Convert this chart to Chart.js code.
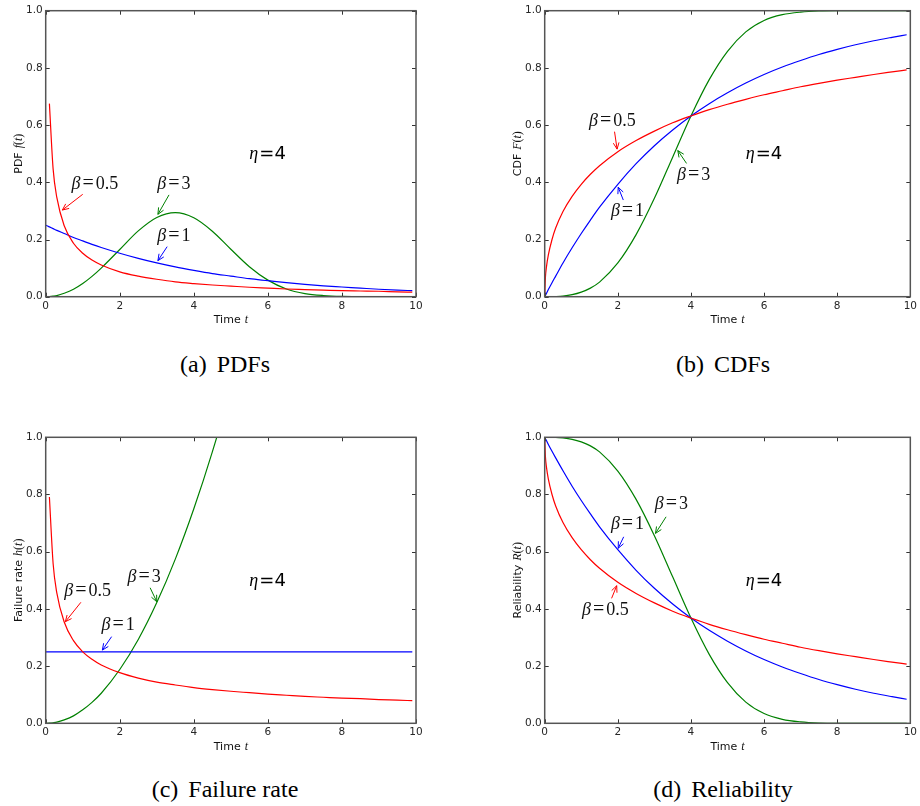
<!DOCTYPE html>
<html>
<head>
<meta charset="utf-8">
<title>Weibull distribution, eta = 4</title>
<script src="https://cdn.jsdelivr.net/npm/chart.js@4.4.1/dist/chart.umd.min.js"></script>
<style>
  html, body { margin: 0; padding: 0; background: #fff; }
  #page { position: relative; width: 920px; height: 806px; overflow: hidden; }
  .panel { position: absolute; width: 460px; height: 340px; }
  .caption {
    position: absolute; width: 300px; text-align: center; color: #000;
    font: 24px "Liberation Serif", "Times New Roman", serif; line-height: 24px;
    white-space: pre;
  }
  .caption .tag { margin-right: 4px; }
</style>
</head>
<body>
<div id="page">
  <div class="panel" style="left:0;top:0"><canvas id="pdfChart" width="460" height="340"></canvas></div>
  <div class="panel" style="left:460px;top:0"><canvas id="cdfChart" width="460" height="340"></canvas></div>
  <div class="panel" style="left:0;top:420px"><canvas id="hazChart" width="460" height="340"></canvas></div>
  <div class="panel" style="left:460px;top:420px"><canvas id="relChart" width="460" height="340"></canvas></div>
  <div class="caption" style="left:75px;top:352px"><span class="tag">(a)</span> PDFs</div>
  <div class="caption" style="left:573px;top:352px"><span class="tag">(b)</span> CDFs</div>
  <div class="caption" style="left:75px;top:777px"><span class="tag">(c)</span> Failure rate</div>
  <div class="caption" style="left:573px;top:777px"><span class="tag">(d)</span> Reliability</div>
</div>

<script>
// ===== Data (eta = 4) =====
const times = [0, 0.02, 0.05, 0.1, 0.2, 0.3, 0.5, 0.75, 1, 1.25, 1.5, 2, 2.5, 3, 3.5, 4, 4.5, 5, 5.5, 6, 6.5, 7, 7.5, 8, 8.5, 9, 9.5, 9.9];

const betaLabels = ['0.5', '1', '3'];

// PDF f(t)
const pdfBeta05 = [null, null, null, 0.675, 0.447, 0.347, 0.248, 0.187, 0.152, 0.128, 0.111, 0.087, 0.072, 0.061, 0.052, 0.046, 0.041, 0.037, 0.033, 0.030, 0.027, 0.025, 0.023, 0.021, 0.020, 0.019, 0.017, 0.016];
const pdfBeta1  = [0.250, 0.249, 0.247, 0.244, 0.238, 0.232, 0.221, 0.207, 0.195, 0.183, 0.172, 0.152, 0.134, 0.118, 0.104, 0.092, 0.081, 0.072, 0.063, 0.056, 0.049, 0.043, 0.038, 0.034, 0.030, 0.026, 0.023, 0.021];
const pdfBeta3  = [0, 0, 0, 0.0005, 0.002, 0.004, 0.012, 0.026, 0.046, 0.071, 0.100, 0.165, 0.230, 0.277, 0.294, 0.276, 0.229, 0.166, 0.105, 0.058, 0.027, 0.011, 0.004, 0.001, 0.0002, 0, 0, 0];

// CDF F(t)
const cdfBeta05 = [0, 0.068, 0.106, 0.146, 0.200, 0.240, 0.298, 0.351, 0.393, 0.428, 0.458, 0.507, 0.546, 0.579, 0.608, 0.632, 0.654, 0.673, 0.690, 0.706, 0.720, 0.734, 0.746, 0.757, 0.767, 0.777, 0.786, 0.793];
const cdfBeta1  = [0, 0.005, 0.012, 0.025, 0.049, 0.072, 0.118, 0.171, 0.221, 0.268, 0.313, 0.393, 0.465, 0.528, 0.583, 0.632, 0.675, 0.713, 0.747, 0.777, 0.803, 0.826, 0.847, 0.865, 0.881, 0.895, 0.907, 0.916];
const cdfBeta3  = [0, 0, 0, 0, 0.0001, 0.0004, 0.002, 0.007, 0.016, 0.030, 0.051, 0.118, 0.217, 0.344, 0.488, 0.632, 0.759, 0.858, 0.926, 0.966, 0.986, 0.995, 0.999, 1.000, 1, 1, 1, 1];

// Failure rate h(t)
const hazBeta05 = [null, null, null, 0.791, 0.559, 0.456, 0.354, 0.289, 0.250, 0.224, 0.204, 0.177, 0.158, 0.144, 0.134, 0.125, 0.118, 0.112, 0.107, 0.102, 0.098, 0.094, 0.091, 0.088, 0.086, 0.083, 0.081, 0.079];
const hazBeta1  = [0.25, 0.25, 0.25, 0.25, 0.25, 0.25, 0.25, 0.25, 0.25, 0.25, 0.25, 0.25, 0.25, 0.25, 0.25, 0.25, 0.25, 0.25, 0.25, 0.25, 0.25, 0.25, 0.25, 0.25, 0.25, 0.25, 0.25, 0.25];
const hazBeta3  = [0, 0, 0.0001, 0.0005, 0.002, 0.004, 0.012, 0.026, 0.047, 0.073, 0.105, 0.188, 0.293, 0.422, 0.574, 0.750, 0.949, 1.172, 1.418, null, null, null, null, null, null, null, null, null];

// Reliability R(t)
const relBeta05 = [1, 0.932, 0.894, 0.854, 0.800, 0.760, 0.702, 0.649, 0.607, 0.572, 0.542, 0.493, 0.454, 0.421, 0.392, 0.368, 0.346, 0.327, 0.310, 0.294, 0.280, 0.266, 0.254, 0.243, 0.233, 0.223, 0.214, 0.207];
const relBeta1  = [1, 0.995, 0.988, 0.975, 0.951, 0.928, 0.883, 0.829, 0.779, 0.732, 0.687, 0.607, 0.535, 0.472, 0.417, 0.368, 0.325, 0.287, 0.253, 0.223, 0.197, 0.174, 0.153, 0.135, 0.119, 0.105, 0.093, 0.084];
const relBeta3  = [1, 1, 1, 1, 1, 1, 0.998, 0.993, 0.984, 0.970, 0.949, 0.882, 0.783, 0.656, 0.512, 0.368, 0.241, 0.142, 0.074, 0.034, 0.014, 0.005, 0.001, 0, 0, 0, 0, 0];

// Ticks
const xTickValues = [0, 2, 4, 6, 8, 10];
const xTickLabels = ['0', '2', '4', '6', '8', '10'];
const yTickValues = [0, 0.2, 0.4, 0.6, 0.8, 1.0];
const yTickLabels = ['0.0', '0.2', '0.4', '0.6', '0.8', '1.0'];

// ===== Style =====
const seriesColors = ['#ff0000', '#0000ff', '#008000'];
const SANS = '"DejaVu Sans", sans-serif';
const SERIF = '"Liberation Serif", "Times New Roman", serif';
const CANVAS_H = 340;
const Y_AXIS_W = 40;

// ===== Panels =====
// notes: [series index, text x, text y, arrow tail x, tail y, head x, head y] in data units
const panels = [
  {
    id: 'pdfChart', pos: { x: 0, y: 0 }, area: { left: 45.7, top: 10.7, right: 416, bottom: 296.7 },
    yName: 'PDF', yFunc: 'f', series: [pdfBeta05, pdfBeta1, pdfBeta3],
    notes: [[0, 0.70, 0.375, 1.00, 0.358, 0.45, 0.303],
            [2, 3.01, 0.375, 3.33, 0.356, 3.03, 0.288],
            [1, 3.01, 0.196, 3.28, 0.175, 3.03, 0.126]]
  },
  {
    id: 'cdfChart', pos: { x: 460, y: 0 }, area: { left: 544.7, top: 10.7, right: 914, bottom: 296.7 },
    yName: 'CDF', yFunc: 'F', series: [cdfBeta05, cdfBeta1, cdfBeta3],
    notes: [[0, 1.21, 0.597, 1.91, 0.577, 1.98, 0.516],
            [1, 1.81, 0.282, 2.15, 0.338, 2.01, 0.383],
            [2, 3.62, 0.408, 3.88, 0.466, 3.64, 0.511]]
  },
  {
    id: 'hazChart', pos: { x: 0, y: 420 }, area: { left: 45.7, top: 437.3, right: 416, bottom: 723.3 },
    yName: 'Failure rate', yFunc: 'h', series: [hazBeta05, hazBeta1, hazBeta3],
    notes: [[0, 0.50, 0.446, 0.95, 0.423, 0.53, 0.355],
            [2, 2.21, 0.495, 2.82, 0.474, 3.00, 0.425],
            [1, 1.51, 0.326, 1.78, 0.303, 1.53, 0.256]]
  },
  {
    id: 'relChart', pos: { x: 460, y: 420 }, area: { left: 544.7, top: 437.3, right: 914, bottom: 723.3 },
    yName: 'Reliability', yFunc: 'R', series: [relBeta05, relBeta1, relBeta3],
    notes: [[2, 3.01, 0.748, 3.32, 0.722, 3.03, 0.664],
            [1, 1.81, 0.678, 2.16, 0.652, 2.01, 0.612],
            [0, 1.02, 0.379, 1.83, 0.437, 1.97, 0.481]]
  }
];

// ===== Helpers =====
function drawParts(ctx, parts, x, y, align) {
  let total = 0;
  const widths = parts.map(p => {
    ctx.font = p.font;
    const w = ctx.measureText(p.text).width;
    total += w + (p.gap || 0);
    return w;
  });
  let cx = align === 'center' ? x - total / 2 : x;
  parts.forEach((p, i) => {
    ctx.font = p.font;
    ctx.fillText(p.text, cx, y);
    cx += widths[i] + (p.gap || 0);
  });
}

function drawArrow(ctx, x1, y1, x2, y2, color) {
  const a = Math.atan2(y2 - y1, x2 - x1);
  const len = 7, spread = 0.42;
  ctx.strokeStyle = color;
  ctx.lineWidth = 1;
  ctx.beginPath();
  ctx.moveTo(x1, y1);
  ctx.lineTo(x2, y2);
  ctx.moveTo(x2 - len * Math.cos(a - spread), y2 - len * Math.sin(a - spread));
  ctx.lineTo(x2, y2);
  ctx.lineTo(x2 - len * Math.cos(a + spread), y2 - len * Math.sin(a + spread));
  ctx.stroke();
}

function funcParts(name, size) {
  return [
    { text: name, font: `italic ${size}px ${SERIF}` },
    { text: '(', font: `${size}px ${SERIF}` },
    { text: 't', font: `italic ${size}px ${SERIF}` },
    { text: ')', font: `${size}px ${SERIF}` }
  ];
}

// ===== Decoration plugin: frame, inward ticks, labels, notes =====
function makeDecor(panel) {
  return {
    id: 'decor',
    afterDraw(chart) {
      const ctx = chart.ctx;
      const { left, right, top, bottom } = chart.chartArea;
      const xs = chart.scales.x, ys = chart.scales.y;
      ctx.save();

      // inward tick marks on all four sides
      ctx.strokeStyle = '#333';
      ctx.lineWidth = 1;
      ctx.beginPath();
      xTickValues.forEach(v => {
        const px = Math.round(xs.getPixelForValue(v)) + 0.5;
        ctx.moveTo(px, bottom); ctx.lineTo(px, bottom - 4);
        ctx.moveTo(px, top); ctx.lineTo(px, top + 4);
      });
      yTickValues.forEach(v => {
        const py = Math.round(ys.getPixelForValue(v)) + 0.5;
        ctx.moveTo(left, py); ctx.lineTo(left + 4, py);
        ctx.moveTo(right, py); ctx.lineTo(right - 4, py);
      });
      ctx.stroke();

      // frame
      ctx.strokeStyle = '#555';
      ctx.lineWidth = 1.5;
      ctx.strokeRect(left, top, right - left, bottom - top);

      // axis titles
      ctx.fillStyle = '#111';
      ctx.textBaseline = 'alphabetic';
      ctx.textAlign = 'left';
      drawParts(ctx, [
        { text: 'Time', font: `11px ${SANS}`, gap: 4 },
        { text: 't', font: `italic 12px ${SERIF}` }
      ], (left + right) / 2, bottom + 26.5, 'center');

      ctx.save();
      ctx.translate(left - 24.2, (top + bottom) / 2);
      ctx.rotate(-Math.PI / 2);
      drawParts(ctx, [{ text: panel.yName, font: `11px ${SANS}`, gap: 4 }].concat(funcParts(panel.yFunc, 12)), 0, 0, 'center');
      ctx.restore();

      // beta notes with arrows
      panel.notes.forEach(n => {
        const [si, tx, ty, ax, ay, hx, hy] = n;
        const color = seriesColors[si];
        ctx.fillStyle = '#111';
        drawParts(ctx, [
          { text: 'β', font: `italic 18px ${SERIF}`, gap: 2 },
          { text: '=', font: `20px ${SERIF}`, gap: 2 },
          { text: betaLabels[si], font: `18px ${SERIF}` }
        ], xs.getPixelForValue(tx), ys.getPixelForValue(ty), 'left');
        drawArrow(ctx, xs.getPixelForValue(ax), ys.getPixelForValue(ay),
                  xs.getPixelForValue(hx), ys.getPixelForValue(hy), color);
      });

      // eta label
      ctx.fillStyle = '#000';
      drawParts(ctx, [
        { text: 'η', font: `italic 18px ${SERIF}`, gap: 1 },
        { text: '=4', font: `18px ${SANS}` }
      ], xs.getPixelForValue(5.5), ys.getPixelForValue(0.48), 'left');

      ctx.restore();
    }
  };
}

// ===== Build =====
function buildChart(panel) {
  const canvas = document.getElementById(panel.id);
  const padLeft = panel.area.left - panel.pos.x - Y_AXIS_W;
  const padRight = panel.pos.x + 460 - panel.area.right;
  const padTop = panel.area.top - panel.pos.y;
  const xAxisH = CANVAS_H - (panel.area.bottom - panel.pos.y);
  const tickFont = { family: SANS, size: 10.5 };

  new Chart(canvas, {
    type: 'line',
    data: {
      datasets: panel.series.map((vals, i) => ({
        label: 'β=' + betaLabels[i],
        data: times.map((t, k) => ({ x: t, y: vals[k] })),
        borderColor: seriesColors[i],
        borderWidth: 1.2,
        pointRadius: 0,
        fill: false,
        cubicInterpolationMode: 'monotone',
        spanGaps: false,
        clip: 0
      }))
    },
    options: {
      responsive: false,
      animation: false,
      events: [],
      layout: { padding: { left: padLeft, right: padRight, top: padTop, bottom: 0 } },
      plugins: { legend: { display: false }, tooltip: { enabled: false } },
      scales: {
        x: {
          type: 'linear', min: 0, max: 10,
          afterFit: s => { s.height = xAxisH; },
          afterBuildTicks: s => { s.ticks = xTickValues.map(v => ({ value: v })); },
          ticks: { callback: (v, i) => xTickLabels[i], font: tickFont, color: '#262626', padding: 3, maxRotation: 0, autoSkip: false },
          grid: { display: false, drawTicks: false },
          border: { display: false }
        },
        y: {
          type: 'linear', min: 0, max: 1,
          afterFit: s => { s.width = Y_AXIS_W; },
          afterBuildTicks: s => { s.ticks = yTickValues.map(v => ({ value: v })); },
          ticks: { callback: (v, i) => yTickLabels[i], font: tickFont, color: '#262626', padding: 3, autoSkip: false },
          grid: { display: false, drawTicks: false },
          border: { display: false }
        }
      }
    },
    plugins: [makeDecor(panel)]
  });
}

// ===== Start =====
panels.forEach(buildChart);
</script>
</body>
</html>
